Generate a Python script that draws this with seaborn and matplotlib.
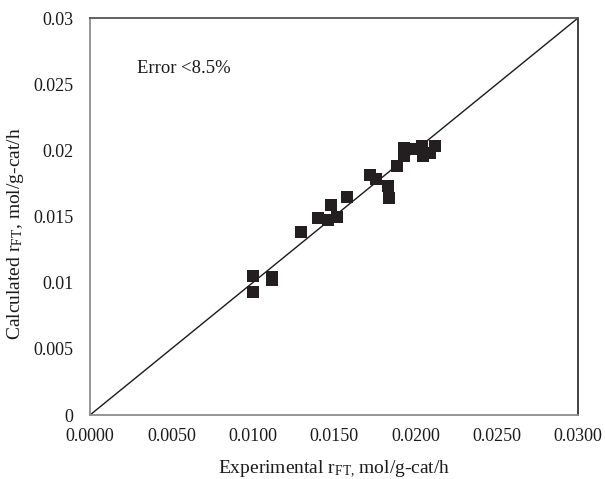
import matplotlib
matplotlib.use("Agg")
import matplotlib.pyplot as plt
import seaborn as sns
import pandas as pd
from matplotlib.ticker import FormatStrFormatter, FuncFormatter

# Experimental vs calculated FT reaction rates (mol/g-cat/h)
experimental = [0.0100, 0.0100, 0.0112, 0.0112, 0.0130, 0.0140, 0.0146, 0.0148,
                0.0152, 0.0158, 0.0172, 0.0176, 0.0183, 0.0184, 0.0189, 0.0193,
                0.0193, 0.0196, 0.0201, 0.0204, 0.0205, 0.0209, 0.0212]
calculated = [0.0105, 0.0093, 0.0104, 0.0102, 0.0138, 0.0149, 0.0147, 0.0159,
              0.0150, 0.0165, 0.0181, 0.0178, 0.0173, 0.0164, 0.0188, 0.0202,
              0.0196, 0.0201, 0.0201, 0.0203, 0.0196, 0.0198, 0.0203]
parity = [0.0, 0.03]
x_ticks = [0.0, 0.005, 0.010, 0.015, 0.020, 0.025, 0.030]
y_ticks = [0.0, 0.005, 0.010, 0.015, 0.020, 0.025, 0.030]
note = "Error <8.5%"

sns.set_theme(style="white")
plt.rcParams["font.family"] = ["Liberation Serif", "DejaVu Serif"]
plt.rcParams["mathtext.fontset"] = "custom"
plt.rcParams["mathtext.rm"] = "Liberation Serif"
plt.rcParams["mathtext.it"] = "Liberation Serif:italic"

fig = plt.figure(figsize=(6.05, 4.79), dpi=100)
ax = fig.add_axes([0.1488, 0.1336, 0.8066, 0.8288])

df = pd.DataFrame({"exp": experimental, "calc": calculated})
line_df = pd.DataFrame({"x": parity, "y": parity})

sns.lineplot(data=line_df, x="x", y="y", ax=ax, color="#1a1a1a", linewidth=1.0)
sns.scatterplot(data=df, x="exp", y="calc", ax=ax, marker="s", s=80,
                color="#231f20", edgecolor="#231f20", linewidth=0, zorder=3)

ax.set_xlim(0, 0.03)
ax.set_ylim(0, 0.03)
ax.set_xticks(x_ticks)
ax.set_yticks(y_ticks)
ax.xaxis.set_major_formatter(FormatStrFormatter("%.4f"))
ax.yaxis.set_major_formatter(FuncFormatter(lambda v, p: "0" if v == 0 else f"{v:g}"))

ax.tick_params(axis="both", direction="in", length=4, width=1, color="#888888",
               labelsize=13, labelcolor="#1a1a1a")
ax.tick_params(axis="x", pad=9)
ax.tick_params(axis="y", pad=12)

for side in ["left", "bottom", "right", "top"]:
    ax.spines[side].set_visible(True)
    ax.spines[side].set_linewidth(1.3)
ax.spines["left"].set_color("#8c8c8c")
ax.spines["bottom"].set_color("#8c8c8c")
ax.spines["top"].set_color("#555555")
ax.spines["right"].set_color("#333333")

ax.set_xlabel(r"Experimental r$_{\mathrm{FT,}}\,$mol/g-cat/h", fontsize=14,
              color="#1a1a1a")
ax.set_ylabel(r"Calculated r$_{\mathrm{FT}}$, mol/g-cat/h", fontsize=14,
              color="#1a1a1a")
ax.xaxis.set_label_coords(0.5, -0.11)
ax.yaxis.set_label_coords(-0.131, 0.456)

ax.text(0.0029, 0.0262, note, fontsize=13.4, color="#1a1a1a", va="center", ha="left")

fig.savefig("out.png", dpi=100)
